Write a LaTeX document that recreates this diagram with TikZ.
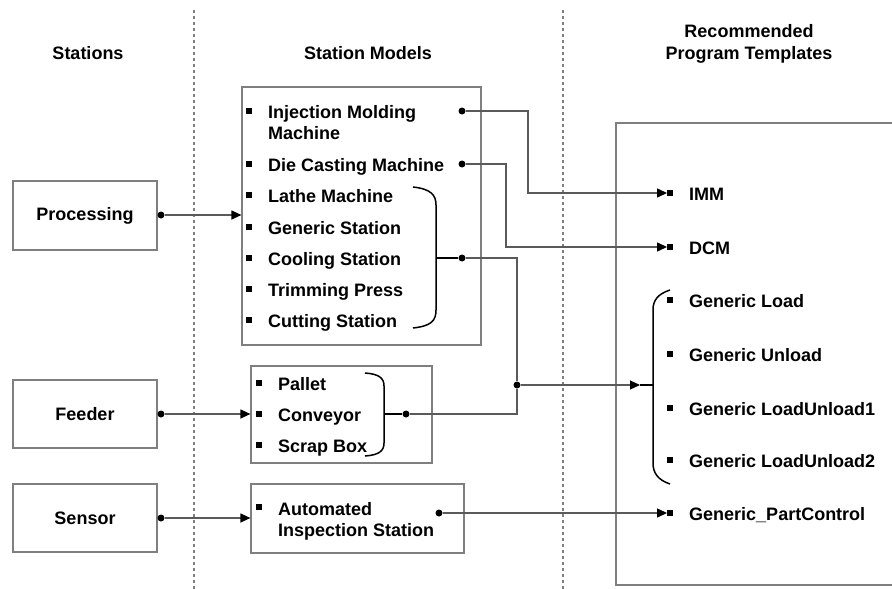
\documentclass[tikz,border=0pt]{standalone}
\usepackage{fontspec}
\setmainfont{Liberation Sans}
\usetikzlibrary{arrows.meta}
\definecolor{boxgray}{HTML}{7F7F7F}
\definecolor{conngray}{HTML}{5A5A5A}
\begin{document}
\begin{tikzpicture}[x=1pt,y=-1pt,
 every node/.style={font=\fontsize{18}{21}\selectfont\bfseries},
 lbl/.style={anchor=base west, inner sep=0pt, align=left},
 hdr/.style={anchor=base, inner sep=0pt, align=center},
 bx/.style={draw=boxgray, line width=1.2pt, inner sep=0pt},
 blt/.style={fill=black, minimum size=5.5pt, inner sep=0pt},
 dot/.style={circle, fill=black, minimum size=7pt, inner sep=0pt},
 conn/.style={draw=conngray, line width=1.2pt},
 arr/.style={conn, -{Triangle[length=10pt,width=9pt,color=black]}},
 brace/.style={draw=black, line width=1.5pt},
 sepline/.style={draw=boxgray, line width=1.2pt, dash pattern=on 3pt off 3pt}]
\useasboundingbox (0,0) rectangle (892,589);
% separators
\coordinate (s1t) at (194,10); \coordinate (s1b) at (194,589);
\coordinate (s2t) at (563,10); \coordinate (s2b) at (563,589);
\draw[sepline] (s1t) -- (s1b);
\draw[sepline] (s2t) -- (s2b);
% headers
\node[hdr] (h1) at (88,59) {Stations};
\node[hdr] (h2) at (368,59) {Station Models};
\node[hdr] (h3a) at (749,37) {Recommended};
\node[hdr] (h3b) at (749,59) {Program Templates};
% station boxes
\node[bx, minimum width=144pt, minimum height=69pt] (proc) at (85,215.5) {Processing};
\node[bx, minimum width=144pt, minimum height=68pt] (feed) at (85,414) {Feeder};
\node[bx, minimum width=144pt, minimum height=68pt] (sens) at (85,518) {Sensor};
% model boxes
\node[bx, minimum width=239pt, minimum height=258pt] (m1) at (361.5,216) {};
\node[bx, minimum width=181pt, minimum height=97pt] (m2) at (341.5,414.5) {};
\node[bx, minimum width=213pt, minimum height=69pt] (m3) at (357.5,518.5) {};
% template box
\coordinate (tb1) at (900,123); \coordinate (tb2) at (616,123);
\coordinate (tb3) at (616,585); \coordinate (tb4) at (900,585);
\draw[draw=boxgray, line width=1.2pt] (tb1) -- (tb2) -- (tb3) -- (tb4);
% box1 items
\foreach \n/\y in {a/111,b/164,c/195,d/227,e/258,f/289,g/320}
  \node[blt] (b1\n) at (249,\y) {};
\node[lbl] (t1a) at (268,139) {Injection Molding\\Machine};
\node[lbl] (t1b) at (268,171) {Die Casting Machine};
\node[lbl] (t1c) at (268,202) {Lathe Machine};
\node[lbl] (t1d) at (268,234) {Generic Station};
\node[lbl] (t1e) at (268,265) {Cooling Station};
\node[lbl] (t1f) at (268,296) {Trimming Press};
\node[lbl] (t1g) at (268,327) {Cutting Station};
% box2 items
\foreach \n/\y in {a/383,b/414,c/445}
  \node[blt] (b2\n) at (259,\y) {};
\node[lbl] (t2a) at (278,390) {Pallet};
\node[lbl] (t2b) at (278,421) {Conveyor};
\node[lbl] (t2c) at (278,452) {Scrap Box};
% box3 item
\node[blt] (b3a) at (259,507) {};
\node[lbl] (t3a) at (278,536) {Automated\\Inspection Station};
% templates
\foreach \n/\y in {a/193,b/247,c/300,d/354,e/408,f/460,g/513}
  \node[blt] (r\n) at (670,\y) {};
\node[lbl] (tra) at (689,200) {IMM};
\node[lbl] (trb) at (689,254) {DCM};
\node[lbl] (trc) at (689,307) {Generic Load};
\node[lbl] (trd) at (689,361) {Generic Unload};
\node[lbl] (tre) at (689,415) {Generic LoadUnload1};
\node[lbl] (trf) at (689,467) {Generic LoadUnload2};
\node[lbl] (trg) at (689,520) {Generic\_PartControl};
% braces
\draw[brace] (413,187) .. controls (431,189) and (436,195) .. (436,205) -- (436,310) .. controls (436,321) and (431,326) .. (413,328);
\coordinate (bm1) at (436,258);
\draw[brace] (365,373) .. controls (379,374) and (384,378) .. (384,386) -- (384,443) .. controls (384,451) and (379,455) .. (365,456);
\coordinate (bm2) at (384,414);
\draw[brace] (670,290) .. controls (658,294) and (653,300) .. (653,310) -- (653,463) .. controls (653,473) and (658,480) .. (670,484);
\coordinate (bm3) at (653,385);
% dots
\node[dot] (dproc) at (161,215) {};
\node[dot] (dfeed) at (161,414) {};
\node[dot] (dsens) at (161,518) {};
\node[dot] (dimm) at (462,111) {};
\node[dot] (ddcm) at (462,164) {};
\node[dot] (dgrp) at (462,258) {};
\node[dot] (dpal) at (406,414) {};
\node[dot] (dins) at (439,513) {};
\node[dot] (jn) at (517,385) {};
\coordinate (rbtip) at (640,385);
% connectors
\draw[arr] (dproc) -- (dproc -| m1.west);
\draw[arr] (dfeed) -- (dfeed -| m2.west);
\draw[arr] (dsens) -- (dsens -| m3.west);
\draw[brace] (bm1) -- (dgrp);
\draw[brace] (bm2) -- (dpal);
\draw[arr] (dimm) -- (528,111) |- (ra.west);
\draw[arr] (ddcm) -- (506,164) |- (rb.west);
\draw[conn] (dgrp) -| (jn);
\draw[conn] (dpal) -| (jn);
\draw[arr] (jn) -- (rbtip);
\draw[brace] (rbtip) -- (bm3);
\draw[arr] (dins) -- (rg.west);
\end{tikzpicture}
\end{document}
